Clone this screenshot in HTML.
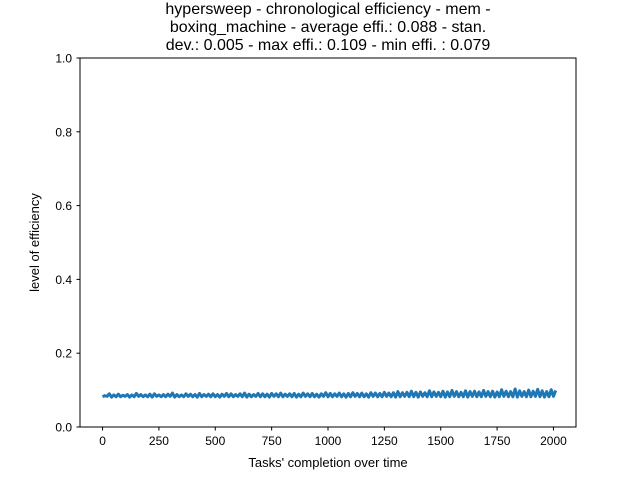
<!DOCTYPE html>
<html><head><meta charset="utf-8"><style>
body{margin:0;background:#fff;}
svg{display:block;font-family:"Liberation Sans","DejaVu Sans",sans-serif;}
</style></head><body>
<svg id="chart" width="640" height="480" viewBox="0 0 640 480">
<rect width="640" height="480" fill="#fff"/>
<g font-size="16" text-anchor="middle" fill="#000">
<text x="328" y="14">hypersweep - chronological efficiency - mem -</text>
<text x="328" y="32">boxing_machine - average effi.: 0.088 - stan.</text>
<text x="328" y="50">dev.: 0.005 - max effi.: 0.109 - min effi. : 0.079</text>
</g>
<g id="plot"></g>
<rect x="80" y="58" width="496" height="369" fill="none" stroke="#000" stroke-width="1"/>
<text x="328" y="467" font-size="13" text-anchor="middle">Tasks' completion over time</text>
<text transform="translate(39,242.5) rotate(-90)" font-size="13" text-anchor="middle">level of efficiency</text>
</svg>
<script>
const xTicks=[0,250,500,750,1000,1250,1500,1750,2000];
const yTicks=[0.0,0.2,0.4,0.6,0.8,1.0];
const yTickLabels=["0.0","0.2","0.4","0.6","0.8","1.0"];
const stepSize=10;
const effLow=[0.082,0.083,0.081,0.082,0.082,0.083,0.081,0.082,0.083,0.082,0.082,0.081,0.083,0.082,0.082,0.083,0.081,0.082,0.082,0.083,0.082,0.081,0.082,0.083,0.082,0.082,0.081,0.083,0.082,0.082,0.083,0.082,0.081,0.082,0.083,0.082,0.082,0.081,0.083,0.082,0.082,0.083,0.082,0.081,0.082,0.083,0.082,0.082,0.081,0.083,0.082,0.082,0.083,0.082,0.081,0.082,0.083,0.082,0.082,0.081,0.083,0.082,0.082,0.083,0.082,0.081,0.082,0.083,0.082,0.082,0.081,0.083,0.082,0.082,0.083,0.082,0.081,0.082,0.083,0.082,0.082,0.081,0.083,0.082,0.082,0.083,0.082,0.081,0.082,0.083,0.082,0.082,0.081,0.083,0.082,0.082,0.083,0.082,0.081,0.082,0.083];
const effHigh=[0.085,0.090,0.087,0.089,0.086,0.088,0.087,0.091,0.088,0.087,0.089,0.090,0.087,0.088,0.089,0.092,0.088,0.087,0.090,0.089,0.088,0.091,0.088,0.089,0.090,0.088,0.089,0.091,0.090,0.088,0.090,0.092,0.089,0.088,0.091,0.090,0.089,0.091,0.090,0.092,0.089,0.090,0.091,0.089,0.092,0.090,0.091,0.089,0.090,0.093,0.091,0.090,0.092,0.090,0.091,0.093,0.091,0.092,0.090,0.093,0.092,0.091,0.094,0.092,0.093,0.096,0.093,0.094,0.097,0.094,0.095,0.093,0.098,0.095,0.094,0.097,0.095,0.099,0.096,0.094,0.098,0.096,0.097,0.095,0.099,0.096,0.097,0.095,0.101,0.097,0.096,0.103,0.098,0.096,0.100,0.097,0.102,0.098,0.096,0.101,0.099];
const X0=80,W=496,Y0=58,H=369,xMin=-100,xMax=2100,yMin=0,yMax=1;
const xs=v=>X0+(v-xMin)/(xMax-xMin)*W;
const ys=v=>Y0+H-(v-yMin)/(yMax-yMin)*H;
const NS="http://www.w3.org/2000/svg";
const svg=document.getElementById('chart');
const plot=document.getElementById('plot');
function mk(t,a,p){const e=document.createElementNS(NS,t);for(const k in a)e.setAttribute(k,a[k]);(p||svg).appendChild(e);return e;}
xTicks.forEach(v=>{
 const l=mk('line',{x1:xs(v),x2:xs(v),y1:427,y2:430.5,stroke:'#000'});
 
 
 const t=mk('text',{x:xs(v),y:445,'font-size':12,'text-anchor':'middle'});t.textContent=v;
 
 
});
yTicks.forEach((v,i)=>{
 const l=mk('line',{x1:76.5,x2:80,y1:ys(v),y2:ys(v),stroke:'#000'});
 
 
 const t=mk('text',{x:72,y:ys(v)+4.5,'font-size':12,'text-anchor':'end'});t.textContent=yTickLabels[i];
 
 
});
let pts=[];
for(let i=0;i<effLow.length;i++){
 const base=i*stepSize*2;
 pts.push(xs(base)+','+ys(effLow[i]));
 if(i<effHigh.length) pts.push(xs(base+stepSize)+','+ys(effHigh[i]));
}
const line=mk('polyline',{points:pts.join(' '),fill:'none',stroke:'#1f77b4','stroke-width':3,'stroke-linejoin':'round'},plot);


</script>
</body></html>
